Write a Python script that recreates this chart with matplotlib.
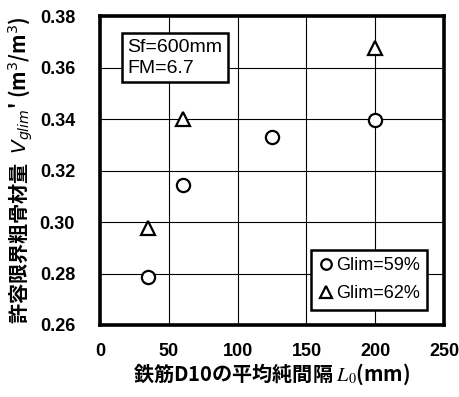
import matplotlib
matplotlib.use('Agg')
import matplotlib.pyplot as plt

plt.rcParams['font.family'] = ['Liberation Sans', 'Noto Sans CJK JP', 'DejaVu Sans']
plt.rcParams['mathtext.fontset'] = 'dejavusans'

# Glim=59%
x_59 = [35, 60, 125, 200]
y_59 = [0.2785, 0.3145, 0.333, 0.3395]
# Glim=62%
x_62 = [35, 60, 200]
y_62 = [0.2975, 0.340, 0.3675]

xticks = [0, 50, 100, 150, 200, 250]
yticks = [0.26, 0.28, 0.30, 0.32, 0.34, 0.36, 0.38]

fig = plt.figure(figsize=(4.6, 3.97), dpi=100)
ax = fig.add_axes([0.2174, 0.1814, 0.748, 0.778])

ax.plot(x_59, y_59, linestyle='none', marker='o', markersize=9.5,
        markerfacecolor='white', markeredgecolor='black', markeredgewidth=1.6,
        label='Glim=59%', zorder=3)
ax.plot(x_62, y_62, linestyle='none', marker='^', markersize=10,
        markerfacecolor='white', markeredgecolor='black', markeredgewidth=1.6,
        label='Glim=62%', zorder=3)

ax.set_xlim(0, 250)
ax.set_ylim(0.26, 0.38)
ax.set_xticks(xticks)
ax.set_yticks(yticks)
ax.set_yticklabels(['%.2f' % v for v in yticks])
ax.tick_params(length=0, labelsize=13)
ax.tick_params(axis='x', pad=13)
ax.tick_params(axis='y', pad=18)
for lab in ax.get_xticklabels() + ax.get_yticklabels():
    lab.set_fontweight('bold')
ax.grid(True, color='black', linewidth=0.8)
for sp in ax.spines.values():
    sp.set_linewidth(2.6)

ax.set_xlabel(r"鉄筋D10の平均純間隔 $L_0$(mm)", fontsize=14.5,
              family=['Noto Sans CJK JP', 'DejaVu Sans'], fontweight='bold',
              math_fontfamily='stix', labelpad=1)
ax.set_ylabel(r"許容限界粗骨材量  $V_{glim}$' (m$^3$/m$^3$)", fontsize=14.5,
              family=['Noto Sans CJK JP', 'DejaVu Sans'], fontweight='bold', labelpad=3)

ax.text(0.08, 0.925, "Sf=600mm\nFM=6.7", transform=ax.transAxes, fontsize=14,
        va='top', ha='left', linespacing=1.25,
        bbox=dict(boxstyle='square,pad=0.3', facecolor='white', edgecolor='black', linewidth=1.8))

leg = ax.legend(loc='lower right', bbox_to_anchor=(0.95, 0.05), fontsize=13,
                handletextpad=0.15, handlelength=0.8, borderpad=0.4,
                labelspacing=0.6, fancybox=False, framealpha=1, markerscale=0.8,
                borderaxespad=0)
leg.get_frame().set_edgecolor('black')
leg.get_frame().set_linewidth(1.8)

fig.savefig('out.png', dpi=100)
